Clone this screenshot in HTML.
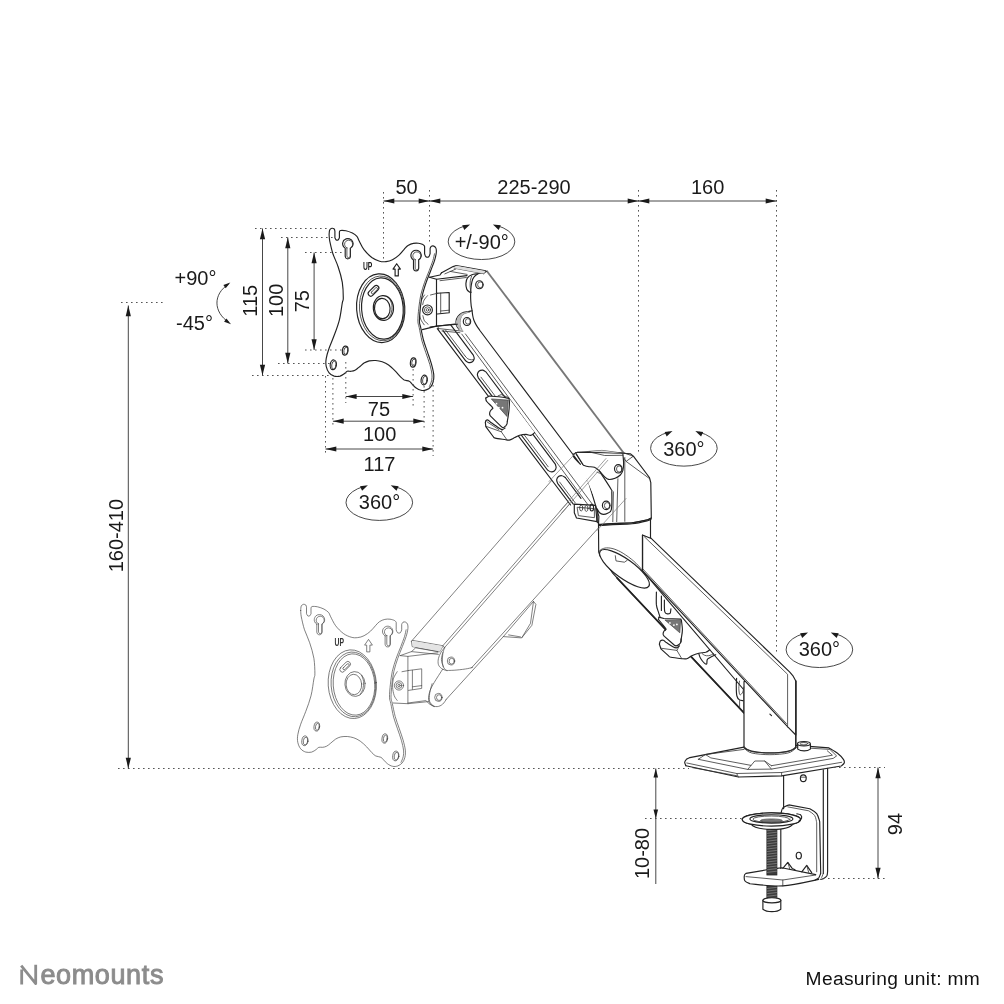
<!DOCTYPE html>
<html><head><meta charset="utf-8"><title>Neomounts dimensions</title>
<style>
html,body{margin:0;padding:0;background:#fff;}
body{width:1004px;height:1004px;overflow:hidden;font-family:"Liberation Sans",sans-serif;}
svg{display:block;position:absolute;left:0;top:0;}
svg text{font-family:"Liberation Sans",sans-serif;fill:#1a1a1a;}
svg{filter:grayscale(1);}
.m{fill:none;stroke:#222;stroke-width:1.15;stroke-linecap:round;stroke-linejoin:round;}
.t{fill:none;stroke:#333;stroke-width:0.8;stroke-linecap:round;stroke-linejoin:round;}
.g{fill:none;stroke:#4a4a4a;stroke-width:0.7;stroke-linecap:round;stroke-linejoin:round;}
.w{fill:#fff;stroke:#222;stroke-width:1.15;stroke-linecap:round;stroke-linejoin:round;}
.gw{fill:#fff;stroke:#4a4a4a;stroke-width:0.7;stroke-linecap:round;stroke-linejoin:round;}
.d{fill:none;stroke:#555;stroke-width:1;stroke-dasharray:1.6 3.4;}
.a{fill:none;stroke:#333;stroke-width:0.9;}
.ah{fill:#1a1a1a;stroke:none;}
</style></head><body>
<svg width="1004" height="1004" viewBox="0 0 1004 1004">
<rect width="1004" height="1004" fill="#fff"/>
<!-- ghostarm -->
<path class="g" d="M411.5 641.2L575.5 453.2"/>
<path class="g" d="M442.6 646.0L606.0 458.5"/>
<path class="g" d="M444.4 647.8L607.8 460.3"/>
<path class="g" d="M471.3 668.1L618.0 506.3"/>
<path class="g" d="M446.4 699.2L503.6 636.3"/>
<path class="g" d="M503.6 636.3L533.5 601.4L535.9 604.4L531.9 625.3L521.9 637.6Z"/>
<path class="g" d="M508.6 634.9L520.5 636.9"/>
<path class="g" d="M533.5 601.4L530.5 623.3L521.9 637.6"/>
<path class="g" d="M411.5 641.2L412.7 640.4L443.2 645.8L444.5 647.8"/>
<path class="g" d="M411.5 641.6L412.2 646.6L439.7 651.9L442.8 646.4"/>
<path d="M412.7 640.9 L442.6 646.1 L440.0 651.4 L412.7 646.4Z" fill="#e4e4e4" stroke="none"/>
<path class="g" d="M444.5 647.8C443.9 648.6 441.8 650.8 440.8 652.6C439.8 654.4 438.8 656.6 438.4 658.6C438.0 660.6 437.9 662.9 438.4 664.5C438.9 666.2 440.1 667.4 441.4 668.4C442.7 669.4 445.4 670.2 446.2 670.5"/>
<path class="g" d="M442.8 652.6C442.6 653.8 441.3 657.4 441.4 659.8C441.5 662.2 443.0 665.7 443.3 666.9"/>
<path class="g" d="M444.5 647.8C444.2 648.8 443.2 651.4 442.8 653.8C442.5 656.2 442.2 659.8 442.4 662.2C442.5 664.5 443.3 666.7 444.0 668.1C444.8 669.5 446.4 670.1 446.9 670.5"/>
<path class="g" d="M446.9 670.5C448.6 670.4 453.5 670.4 456.9 670.0C460.4 669.7 465.1 669.1 467.7 668.6C470.3 668.1 471.7 667.5 472.5 667.3"/>
<ellipse class="g" cx="451.0" cy="661.0" rx="3.7" ry="4.0"/>
<ellipse class="g" cx="451.7" cy="661.2" rx="2.6" ry="2.9"/>
<path class="g" d="M442.6 669.3C441.2 671.5 436.3 678.9 434.2 682.5C432.1 686.1 431.0 688.0 430.0 690.8C429.1 693.6 428.3 696.9 428.5 699.2C428.7 701.6 429.8 703.7 431.2 704.9C432.7 706.2 435.3 706.7 437.2 706.6C439.1 706.5 441.1 705.5 442.6 704.2C444.1 703.0 445.8 700.0 446.4 699.2"/>
<path class="g" d="M432.1 683.7C431.7 685.3 430.1 690.2 429.7 693.2C429.3 696.2 429.1 699.5 429.7 701.6C430.3 703.7 432.7 705.2 433.3 705.9"/>
<ellipse class="g" cx="438.4" cy="697.4" rx="3.7" ry="4.0"/>
<ellipse class="g" cx="439.1" cy="697.6" rx="2.6" ry="2.9"/>
<path class="g" d="M400.2 655.6L407.9 656.4L437.8 652.8"/>
<path class="g" d="M400.2 655.6L411.5 651.6L438.4 654.4"/>
<path class="g" d="M407.9 656.4L407.9 703.7L428.5 701.6"/>
<path class="g" d="M393.0 703.0L407.9 703.7"/>
<path class="g" d="M411.5 651.6L415.7 647.8L437.8 651.6"/>
<path class="g" d="M408.5 670.5L421.7 668.8L421.7 688.4L408.5 690.4"/>
<path class="g" d="M412.4 670.3L412.4 689.4"/>
<path class="g" d="M412.4 686.8L421.7 685.6"/>
<path class="g" d="M402.0 671.7L408.5 670.5"/>
<ellipse class="gw" cx="399.0" cy="685.5" rx="4.6" ry="4.6"/>
<ellipse class="g" cx="399.0" cy="685.5" rx="2.9" ry="2.9"/>
<ellipse class="g" cx="399.0" cy="685.5" rx="1.2" ry="1.2"/>
<path class="g" d="M397.2 671.7C396.5 672.9 394.1 676.3 393.3 678.9C392.6 681.5 392.5 684.5 392.6 687.3C392.8 690.0 393.4 693.4 394.2 695.6C394.9 697.8 396.7 699.6 397.2 700.4"/>
<path class="g" d="M407.9 703.0L425.9 700.6L429.7 704.2L434.5 706.6"/>

<!-- ghostvesa -->
<path class="gw" d="M300.7 610.4C300.8 609.7 300.8 606.9 301.3 605.9C301.8 604.9 302.8 604.5 303.5 604.3C304.3 604.2 305.3 604.5 305.8 605.0C306.3 605.5 306.4 606.8 306.5 607.2L306.5 613.7C306.7 614.0 307.2 615.5 307.8 615.9C308.3 616.2 309.2 616.2 309.7 615.9C310.3 615.5 310.8 614.0 311.0 613.7L311.0 608.1C311.2 607.8 311.0 606.8 312.1 606.5C313.1 606.3 315.5 606.4 317.5 606.8C319.5 607.2 322.1 608.2 324.0 609.1C325.8 610.1 327.4 611.2 328.5 612.4C329.6 613.6 329.3 614.0 330.4 616.2C331.6 618.5 333.5 622.8 335.6 625.7C337.8 628.6 340.8 631.5 343.4 633.5C346.0 635.4 348.8 636.5 351.2 637.2C353.5 637.9 355.5 637.9 357.6 637.6C359.8 637.4 362.0 636.8 364.1 635.7C366.3 634.6 368.6 632.9 370.6 631.1C372.5 629.4 374.3 626.9 375.8 625.3C377.3 623.7 378.1 622.6 379.6 621.6C381.2 620.6 383.1 619.7 384.8 619.4C386.6 619.0 388.4 619.0 390.0 619.2C391.6 619.4 393.5 620.0 394.5 620.5C395.6 621.0 395.9 622.0 396.2 622.3L396.2 629.8C396.4 630.3 396.8 632.2 397.5 632.7C398.2 633.2 399.7 633.2 400.4 632.7C401.1 632.2 401.4 630.3 401.7 629.8L401.7 624.4C401.9 624.0 402.3 622.6 403.0 622.2C403.6 621.8 404.8 621.8 405.5 622.1C406.3 622.4 407.1 623.1 407.5 624.1C407.9 625.2 408.1 626.5 407.9 628.5C407.7 630.6 407.1 633.3 406.2 636.3C405.3 639.3 403.7 643.0 402.3 646.7C400.9 650.3 399.2 654.2 397.8 658.3C396.4 662.4 394.9 667.0 393.9 671.3C392.9 675.6 392.4 679.9 391.9 684.2C391.5 688.5 391.0 694.0 391.0 697.2C391.1 700.4 391.6 700.3 392.3 703.5C393.0 706.7 394.1 712.4 395.2 716.5C396.3 720.6 397.8 724.2 399.1 728.1C400.4 732.0 401.9 736.1 403.0 739.8C404.0 743.4 405.0 747.2 405.3 750.1C405.6 753.0 405.4 755.1 404.9 757.3C404.4 759.4 403.5 761.4 402.3 762.8C401.1 764.3 399.4 765.3 397.8 765.9C396.2 766.5 394.3 766.7 392.6 766.3C390.9 766.0 388.9 764.8 387.4 763.7C385.9 762.7 384.6 760.9 383.5 759.8C382.5 758.8 382.2 757.9 380.9 757.3C379.6 756.6 377.3 756.7 375.8 756.0C374.3 755.2 373.4 754.2 371.9 752.7C370.4 751.2 368.6 748.8 366.7 746.9C364.8 745.0 362.4 742.6 360.2 741.1C358.1 739.6 355.9 738.6 353.8 737.8C351.6 737.1 349.4 736.7 347.3 736.5C345.1 736.4 342.7 736.5 340.8 736.9C338.9 737.4 337.4 738.0 335.6 739.1C333.9 740.2 332.0 742.2 330.4 743.4C328.9 744.6 327.9 745.6 326.6 746.2C325.3 746.9 324.0 747.1 322.7 747.3C321.4 747.5 319.9 746.9 318.8 747.3C317.7 747.7 317.4 748.7 316.2 749.5C315.0 750.3 313.4 751.6 311.7 752.1C309.9 752.5 307.7 752.6 305.8 752.1C304.0 751.5 302.0 750.5 300.7 748.8C299.3 747.2 298.3 744.7 297.8 742.4C297.3 740.0 297.3 737.6 297.8 734.6C298.3 731.6 299.3 728.1 300.7 724.2C302.0 720.4 304.1 716.0 305.8 711.3C307.6 706.5 309.7 701.1 311.0 695.8C312.4 690.4 313.2 682.6 313.9 678.9C314.5 675.3 314.9 677.3 314.9 673.9C314.9 670.4 314.7 663.5 313.9 658.3C313.0 653.2 311.3 647.5 309.7 642.8C308.2 638.0 306.0 634.2 304.5 629.8C303.1 625.5 302.0 620.1 301.3 616.9C300.7 613.7 300.8 611.5 300.7 610.4Z"/>
<path class="g" d="M406.1 629.8C405.8 631.0 405.4 633.8 404.5 636.6C403.6 639.4 402.1 643.1 400.8 646.7C399.4 650.3 397.6 654.2 396.2 658.3C394.8 662.4 393.3 667.0 392.3 671.3C391.4 675.6 390.9 679.9 390.4 684.2C389.9 688.5 389.4 694.0 389.5 697.2C389.6 700.4 390.1 700.2 390.8 703.5C391.5 706.8 392.5 712.9 393.6 717.1C394.8 721.3 396.2 724.9 397.5 728.8C398.8 732.7 400.4 736.9 401.4 740.4C402.4 744.0 403.2 747.4 403.5 750.1C403.8 752.8 403.6 754.6 403.2 756.6C402.8 758.7 401.4 761.5 401.0 762.4"/>
<path class="g" d="M316.8 624.2C316.6 624.0 315.8 623.5 315.4 623.0C315.0 622.5 314.7 621.9 314.5 621.3C314.3 620.7 314.2 620.0 314.3 619.4C314.3 618.7 314.5 618.1 314.8 617.5C315.0 616.9 315.5 616.4 315.9 615.9C316.4 615.5 317.0 615.2 317.5 614.9C318.1 614.7 318.8 614.6 319.4 614.6C320.1 614.6 320.7 614.7 321.3 614.9C321.9 615.2 322.5 615.5 323.0 615.9C323.4 616.4 323.8 616.9 324.1 617.5C324.4 618.1 324.6 618.7 324.6 619.4C324.7 620.0 324.6 620.7 324.4 621.3C324.2 621.9 323.9 622.5 323.5 623.0C323.1 623.5 322.3 624.0 322.0 624.2L322.0 632.2C321.9 632.5 321.7 633.7 321.3 634.1C320.8 634.5 320.0 634.8 319.4 634.8C318.8 634.8 318.1 634.5 317.6 634.1C317.2 633.7 317.0 632.5 316.8 632.2L316.8 624.2Z"/>
<path class="g" d="M385.1 635.9C384.8 635.7 384.0 635.1 383.6 634.6C383.2 634.1 382.9 633.5 382.7 632.9C382.5 632.3 382.5 631.6 382.5 631.0C382.6 630.4 382.7 629.7 383.0 629.2C383.3 628.6 383.7 628.0 384.2 627.6C384.6 627.2 385.2 626.8 385.8 626.6C386.4 626.3 387.0 626.2 387.7 626.2C388.3 626.2 389.0 626.3 389.6 626.6C390.2 626.8 390.7 627.2 391.2 627.6C391.7 628.0 392.1 628.6 392.3 629.2C392.6 629.7 392.8 630.4 392.8 631.0C392.9 631.6 392.8 632.3 392.6 632.9C392.4 633.5 392.1 634.1 391.7 634.6C391.3 635.1 390.5 635.7 390.3 635.9L390.3 644.3C390.1 644.7 389.9 645.9 389.5 646.3C389.1 646.7 388.3 646.9 387.7 646.9C387.1 646.9 386.3 646.7 385.9 646.3C385.4 645.9 385.2 644.7 385.1 644.3L385.1 635.9Z"/>
<path class="g" d="M318.5 623.9C318.3 623.8 317.6 623.4 317.3 623.0C316.9 622.6 316.6 622.2 316.5 621.7C316.3 621.2 316.2 620.7 316.2 620.2C316.2 619.7 316.3 619.1 316.5 618.7C316.7 618.2 317.0 617.7 317.4 617.4C317.8 617.0 318.2 616.7 318.7 616.5C319.2 616.4 319.7 616.2 320.2 616.2C320.7 616.2 321.3 616.4 321.7 616.5C322.2 616.7 322.7 617.0 323.0 617.4C323.4 617.7 323.7 618.2 323.9 618.7C324.1 619.1 324.2 619.7 324.2 620.2C324.2 620.7 324.1 621.2 324.0 621.7C323.8 622.2 323.5 622.6 323.1 623.0C322.8 623.4 322.1 623.8 321.9 623.9L321.9 631.9C321.8 632.1 321.7 632.9 321.4 633.2C321.1 633.5 320.6 633.6 320.2 633.6C319.8 633.6 319.3 633.5 319.0 633.2C318.8 632.9 318.6 632.1 318.5 631.9L318.5 623.9Z"/>
<path class="g" d="M386.8 635.6C386.6 635.4 385.9 635.0 385.5 634.7C385.2 634.3 384.9 633.8 384.7 633.3C384.5 632.9 384.4 632.3 384.4 631.8C384.5 631.3 384.6 630.8 384.8 630.3C385.0 629.9 385.3 629.4 385.6 629.0C386.0 628.7 386.5 628.4 386.9 628.2C387.4 628.0 387.9 627.9 388.5 627.9C389.0 627.9 389.5 628.0 390.0 628.2C390.4 628.4 390.9 628.7 391.3 629.0C391.6 629.4 391.9 629.9 392.1 630.3C392.3 630.8 392.5 631.3 392.5 631.8C392.5 632.3 392.4 632.9 392.2 633.3C392.0 633.8 391.7 634.3 391.4 634.7C391.0 635.0 390.3 635.4 390.1 635.6L390.1 644.1C390.1 644.3 389.9 645.1 389.6 645.4C389.4 645.6 388.8 645.8 388.5 645.8C388.1 645.8 387.6 645.6 387.3 645.4C387.0 645.1 386.9 644.3 386.8 644.1L386.8 635.6Z"/>
<ellipse class="g" cx="316.8" cy="726.6" rx="2.8" ry="4.5" transform="rotate(8 316.8 726.6)"/>
<ellipse class="g" cx="317.4" cy="726.8" rx="1.9" ry="3.5" transform="rotate(8 317.4 726.8)"/>
<ellipse class="g" cx="304.9" cy="740.8" rx="3.1" ry="4.9" transform="rotate(8 304.9 740.8)"/>
<ellipse class="g" cx="305.5" cy="741.1" rx="2.2" ry="3.9" transform="rotate(8 305.5 741.1)"/>
<ellipse class="g" cx="384.8" cy="738.5" rx="2.8" ry="4.7" transform="rotate(8 384.8 738.5)"/>
<ellipse class="g" cx="385.3" cy="738.7" rx="1.9" ry="3.6" transform="rotate(8 385.3 738.7)"/>
<ellipse class="g" cx="395.8" cy="756.0" rx="3.1" ry="4.9" transform="rotate(8 395.8 756.0)"/>
<ellipse class="g" cx="396.4" cy="756.2" rx="2.2" ry="3.9" transform="rotate(8 396.4 756.2)"/>
<ellipse class="g" cx="352.3" cy="684.2" rx="24.1" ry="34.4" transform="rotate(-4 352.3 684.2)"/>
<ellipse class="g" cx="353.4" cy="684.4" rx="22.3" ry="32.4" transform="rotate(-4 353.4 684.4)"/>
<ellipse class="g" cx="354.0" cy="684.5" rx="20.8" ry="30.7" transform="rotate(-4 354.0 684.5)"/>
<ellipse class="g" cx="355.0" cy="684.0" rx="10.1" ry="12.4" transform="rotate(-4 355.0 684.0)"/>
<ellipse class="g" cx="353.9" cy="684.5" rx="7.8" ry="10.2" transform="rotate(-4 353.9 684.5)"/>
<path class="g" d="M361.5 675.2C361.9 676.2 363.4 679.3 363.6 681.6C363.8 684.0 363.4 687.2 362.8 689.4C362.2 691.6 360.4 693.7 360.0 694.6"/>
<rect class="g" x="338.6" y="664.2" width="12.9" height="5.2" rx="2.6" transform="rotate(-45 345.1 666.7)"/>
<rect class="g" x="342.1" y="665.6" width="7.8" height="2.3" rx="1.2" transform="rotate(-45 346.0 666.7)"/>
<path class="g" d="M368.3 639.7L364.6 645.1L366.7 645.1L366.7 651.9L369.9 651.9L369.9 645.1L372.0 645.1Z"/>
<text x="334.5" y="645.5" font-size="10.4" font-weight="bold" textLength="9.4" lengthAdjust="spacingAndGlyphs" style="fill:#333">UP</text>

<!-- upperarm -->
<path d="M437.3 328.7L570.6 505.0L594.4 504.7L597.5 508.5L579.6 463.3L479.9 330.5L465.1 324.1Z" fill="#fff" stroke="none" stroke-width="0.6"/>
<path class="m" d="M437.3 328.7L570.6 505.0"/>
<path class="t" d="M461.8 334.1L590.2 507.8"/>
<path class="t" d="M465.4 333.9L594.5 507.1"/>
<path class="m" d="M443.0 330.7L465.7 360.8C466.2 361.1 467.7 362.5 468.8 362.6C469.9 362.8 471.5 362.5 472.4 361.8C473.3 361.1 474.0 359.7 474.2 358.6C474.4 357.5 473.5 355.7 473.3 355.1L450.7 324.9"/>
<path class="t" d="M445.5 330.0L465.1 356.0"/>
<path class="t" d="M465.1 356.0C465.5 356.5 466.8 358.2 467.9 358.9C469.0 359.5 470.7 359.7 471.7 359.8C472.6 359.9 473.5 359.5 473.9 359.4"/>
<path class="m" d="M486.0 372.0C485.5 371.7 484.0 370.3 482.8 370.1C481.7 370.0 480.1 370.3 479.2 371.0C478.3 371.7 477.6 373.1 477.4 374.2C477.2 375.3 478.1 377.2 478.3 377.8L547.5 470.0C548.0 470.3 549.6 471.7 550.7 471.8C551.8 472.0 553.4 471.7 554.3 471.0C555.2 470.3 556.0 468.9 556.1 467.8C556.3 466.6 555.4 464.8 555.3 464.2L486.0 372.0Z"/>
<path class="t" d="M481.0 377.2L548.2 466.8"/>
<path class="m" d="M565.3 477.5C564.7 477.2 563.2 475.8 562.1 475.7C561.0 475.5 559.4 475.9 558.5 476.5C557.6 477.2 556.9 478.6 556.7 479.7C556.6 480.8 557.4 482.7 557.6 483.3L573.3 504.2"/>
<path class="m" d="M565.3 477.5L581.0 498.4"/>
<path class="t" d="M559.6 482.0L575.2 502.8"/>
<path class="w" d="M487.0 271.2C485.5 271.6 480.4 272.8 478.2 273.7C476.1 274.7 474.9 275.7 473.9 277.1C472.8 278.4 472.4 279.7 471.9 281.9C471.4 284.0 471.0 286.9 470.8 289.8C470.6 292.8 470.6 296.7 470.7 299.4C470.8 302.1 471.0 303.9 471.2 305.8C471.5 307.7 471.9 309.2 472.1 310.8C472.3 312.4 472.4 313.9 472.7 315.5C473.0 317.1 473.3 318.7 473.9 320.3C474.5 321.9 475.3 323.4 476.3 325.1C477.3 326.8 479.3 329.6 479.9 330.5L580.5 464.5C579.7 462.6 568.4 454.9 575.6 453.0C582.8 451.1 615.7 453.0 623.7 453.0"/>
<path d="M487.0 271.2L623.7 453.0" fill="none" stroke="#777" stroke-width="1.9"/>
<ellipse class="m" cx="479.4" cy="284.7" rx="3.7" ry="4.0"/>
<ellipse class="t" cx="480.3" cy="284.8" rx="2.7" ry="2.9"/>
<path class="m" d="M472.1 310.8C471.4 310.9 469.6 311.4 467.9 311.7C466.2 312.0 463.7 312.1 462.0 312.9C460.3 313.7 458.8 315.3 457.8 316.7C456.8 318.1 456.2 320.0 456.0 321.5C455.8 323.0 456.1 324.4 456.6 325.7C457.1 327.0 458.6 328.7 459.0 329.3"/>
<path class="t" d="M469.7 312.0C468.7 312.3 465.2 313.0 463.7 314.0C462.2 315.0 461.4 316.4 460.8 317.9C460.2 319.3 459.9 321.2 459.9 322.7C459.8 324.2 460.1 325.7 460.5 326.9C460.9 328.1 461.8 329.4 462.0 329.9"/>
<path d="M467.9 311.7L462 312.9L457.8 316.7L456 321.5L456.6 325.7L459 329.3L462 329.9L460.5 326.9L459.9 322.7L460.8 317.9L463.7 314L469.7 312Z" fill="#bbb" stroke="none"/>
<ellipse class="m" cx="467.0" cy="321.5" rx="3.7" ry="4.0"/>
<ellipse class="t" cx="467.9" cy="321.4" rx="2.5" ry="2.8"/>
<path class="m" d="M477.5 273.7C476.5 273.9 473.5 274.0 471.9 274.7C470.2 275.4 468.5 276.4 467.5 277.9C466.5 279.3 466.0 281.6 465.9 283.5C465.8 285.3 466.2 287.6 466.7 289.0C467.2 290.4 468.3 291.3 469.1 291.8C469.8 292.4 470.9 292.2 471.2 292.2"/>
<path class="t" d="M471.7 276.1C471.5 276.8 470.6 278.7 470.4 280.3C470.1 281.9 470.1 284.0 470.1 285.9C470.2 287.7 470.7 290.6 470.8 291.6"/>
<path class="m" d="M441.6 272.7L453.1 266.6L456.3 265.5L485.8 270.9"/>
<path class="t" d="M454.2 268.2L483.7 273.7"/>
<path class="t" d="M444.8 273.9L455.9 269.0"/>
<path class="t" d="M450.2 271.4L467.1 274.4"/>
<path class="t" d="M483.7 273.7L487.0 271.2"/>
<path d="M456.3 265.7 L485.6 271.0 L483.5 273.6 L454.3 268.2Z" fill="#ddd" stroke="none"/>
<path class="m" d="M429.4 277.3L436.5 279.2L467.0 275.6"/>
<path class="m" d="M429.4 277.3L440.0 275.0L441.6 272.7"/>
<path class="m" d="M436.5 279.2L436.5 326.1L457.3 324.2"/>
<path class="m" d="M436.5 326.1L422.3 329.6"/>
<path class="t" d="M440.0 280.7L466.3 277.5"/>
<path class="m" d="M437.2 293.3L449.2 292.5L449.2 312.7L437.2 314.0"/>
<path class="t" d="M440.7 293.2L440.7 313.6"/>
<path class="t" d="M440.7 311.0L449.2 310.2"/>
<path class="t" d="M430.5 295.0L437.2 293.3"/>
<ellipse class="w" cx="427.5" cy="309.9" rx="4.9" ry="4.9"/>
<ellipse class="t" cx="427.5" cy="309.9" rx="3.1" ry="3.1"/>
<ellipse class="t" cx="427.5" cy="309.9" rx="1.3" ry="1.3"/>
<path class="t" d="M424.5 295.0C423.8 296.2 421.3 299.6 420.4 302.2C419.5 304.7 419.0 307.8 419.1 310.6C419.1 313.4 419.8 316.6 420.6 319.0C421.5 321.4 423.6 323.8 424.2 324.8"/>
<path class="t" d="M427.5 295.7C426.9 296.4 424.8 298.7 424.0 300.2C423.2 301.7 422.9 304.0 422.7 304.7"/>
<path class="t" d="M422.9 315.7C423.2 316.6 423.6 319.5 424.5 320.9C425.4 322.3 427.5 323.6 428.1 324.2"/>
<path class="m" d="M430.0 327.0L438.0 326.0L454.9 324.0"/>
<path class="t" d="M438.0 326.2L438.5 330.0"/>
<path class="t" d="M438.0 328.5L449.9 329.8L462.9 331.2"/>
<path class="t" d="M442.0 331.0L459.9 332.7"/>

<!-- hook1 -->
<path d="M485.8 398.1L489.3 396.0L508.9 398.4L534.6 432.6L530.8 435.4L526.0 434.4L519.6 435.2L514.8 437.6L509.3 440.1L495.3 438.1L493.5 437.0L485.8 426.6L485.4 422.6L488.1 420.1L501.3 426.6L490.3 415.9L492.9 408.3Z" fill="#fff" stroke="none" stroke-width="0.6"/>
<path class="m" d="M485.8 398.1C485.9 398.7 485.6 399.9 486.6 401.3C487.5 402.7 490.7 405.3 491.7 406.5C492.8 407.7 492.7 408.0 492.9 408.3C492.5 408.7 491.1 409.8 490.5 410.7C490.0 411.5 489.6 412.8 489.6 413.7C489.5 414.6 490.2 415.5 490.3 415.9L501.3 426.6C501.6 426.8 502.6 427.9 503.3 427.8C504.0 427.7 505.1 426.4 505.7 425.8C506.3 425.1 506.8 424.6 507.0 423.9C507.3 423.1 507.2 421.7 507.3 421.3"/>
<path class="m" d="M485.8 398.1L489.3 396.0C490.9 396.1 495.7 396.4 498.9 396.8C502.2 397.2 507.2 398.1 508.9 398.4C509.0 398.9 509.4 400.0 509.4 401.7C509.5 403.5 509.3 406.4 509.1 408.9C508.9 411.4 508.4 414.8 508.1 416.9C507.8 418.9 507.4 420.5 507.3 421.3"/>
<path class="m" d="M485.4 422.6C485.5 422.3 485.5 421.0 486.0 420.5C486.5 420.1 487.4 419.8 488.1 420.1C488.9 420.4 490.1 421.9 490.5 422.3C492.1 423.3 497.7 427.2 499.7 428.4C501.7 429.6 501.6 429.5 502.5 429.5C503.4 429.4 504.7 428.3 505.1 428.0"/>
<path class="m" d="M485.4 422.6L485.8 426.6L493.5 437.0C493.8 437.2 493.3 437.7 495.3 438.1C497.4 438.6 504.0 439.4 505.7 439.7C506.3 439.7 507.7 440.5 509.3 440.1C510.8 439.8 513.1 438.4 514.8 437.6C516.6 436.8 517.8 435.7 519.6 435.2C521.5 434.7 524.1 434.4 526.0 434.4C527.9 434.4 529.3 435.7 530.8 435.4C532.2 435.1 534.0 433.1 534.6 432.6"/>
<path class="t" d="M486.2 426.4L501.3 431.8L502.6 429.5"/>
<path class="t" d="M501.3 431.8L506.7 439.5"/>
<path class="t" d="M487.0 421.8L498.9 429.6"/>
<path d="M491.3 398.9 L508.3 400.1 L507.0 416.5 Z" fill="#777" stroke="#333" stroke-width="0.6"/>
<circle cx="496.5" cy="403.7" r="0.9" fill="#fff"/>
<circle cx="498.9" cy="407.7" r="0.9" fill="#fff"/>
<circle cx="502.5" cy="407.7" r="0.9" fill="#fff"/>
<path class="t" d="M498.1 395.8L501.3 394.6L508.5 397.7"/>

<!-- vesa -->
<path class="w" d="M329.1 234.4C329.2 233.7 329.2 230.9 329.7 229.9C330.2 228.9 331.2 228.5 331.9 228.3C332.7 228.2 333.7 228.5 334.2 229.0C334.7 229.5 334.8 230.8 334.9 231.2L334.9 237.7C335.1 238.0 335.6 239.5 336.2 239.9C336.7 240.2 337.6 240.2 338.1 239.9C338.7 239.5 339.2 238.0 339.4 237.7L339.4 232.1C339.6 231.8 339.4 230.8 340.5 230.5C341.5 230.3 343.9 230.4 345.9 230.8C347.9 231.2 350.5 232.2 352.4 233.1C354.2 234.1 355.8 235.2 356.9 236.4C358.0 237.6 357.7 238.0 358.8 240.2C360.0 242.5 361.9 246.8 364.0 249.7C366.2 252.6 369.2 255.5 371.8 257.5C374.4 259.4 377.2 260.5 379.6 261.2C381.9 261.9 383.9 261.9 386.0 261.6C388.2 261.4 390.4 260.8 392.5 259.7C394.7 258.6 397.0 256.9 399.0 255.1C400.9 253.4 402.7 250.9 404.2 249.3C405.7 247.7 406.5 246.6 408.0 245.6C409.6 244.6 411.5 243.7 413.2 243.4C415.0 243.0 416.8 243.0 418.4 243.2C420.0 243.4 421.9 244.0 422.9 244.5C424.0 245.0 424.3 246.0 424.6 246.3L424.6 253.8C424.8 254.3 425.2 256.2 425.9 256.7C426.6 257.2 428.1 257.2 428.8 256.7C429.5 256.2 429.8 254.3 430.1 253.8L430.1 248.4C430.3 248.0 430.7 246.6 431.4 246.2C432.0 245.8 433.2 245.8 433.9 246.1C434.7 246.4 435.5 247.1 435.9 248.1C436.3 249.2 436.5 250.5 436.3 252.5C436.1 254.6 435.5 257.3 434.6 260.3C433.7 263.3 432.1 267.0 430.7 270.7C429.3 274.3 427.6 278.2 426.2 282.3C424.8 286.4 423.3 291.0 422.3 295.3C421.3 299.6 420.8 303.9 420.3 308.2C419.9 312.5 419.4 318.0 419.4 321.2C419.5 324.4 420.0 324.3 420.7 327.5C421.4 330.7 422.5 336.4 423.6 340.5C424.7 344.6 426.2 348.2 427.5 352.1C428.8 356.0 430.3 360.1 431.4 363.8C432.4 367.4 433.4 371.2 433.7 374.1C434.0 377.0 433.8 379.1 433.3 381.3C432.8 383.4 431.9 385.4 430.7 386.8C429.5 388.3 427.8 389.3 426.2 389.9C424.6 390.5 422.7 390.7 421.0 390.3C419.3 390.0 417.3 388.8 415.8 387.7C414.3 386.7 413.0 384.9 411.9 383.8C410.9 382.8 410.6 381.9 409.3 381.3C408.0 380.6 405.7 380.7 404.2 380.0C402.7 379.2 401.8 378.2 400.3 376.7C398.8 375.2 397.0 372.8 395.1 370.9C393.2 369.0 390.8 366.6 388.6 365.1C386.5 363.6 384.3 362.6 382.2 361.8C380.0 361.1 377.8 360.7 375.7 360.5C373.5 360.4 371.1 360.5 369.2 360.9C367.3 361.4 365.8 362.0 364.0 363.1C362.3 364.2 360.4 366.2 358.8 367.4C357.3 368.6 356.3 369.6 355.0 370.2C353.7 370.9 352.4 371.1 351.1 371.3C349.8 371.5 348.3 370.9 347.2 371.3C346.1 371.7 345.8 372.7 344.6 373.5C343.4 374.3 341.8 375.6 340.1 376.1C338.3 376.5 336.1 376.6 334.2 376.1C332.4 375.5 330.4 374.5 329.1 372.8C327.7 371.2 326.7 368.7 326.2 366.4C325.7 364.0 325.7 361.6 326.2 358.6C326.7 355.6 327.7 352.1 329.1 348.2C330.4 344.4 332.5 340.0 334.2 335.3C336.0 330.5 338.1 325.1 339.4 319.8C340.8 314.4 341.6 306.6 342.3 302.9C342.9 299.3 343.3 301.3 343.3 297.9C343.3 294.4 343.1 287.5 342.3 282.3C341.4 277.2 339.7 271.5 338.1 266.8C336.6 262.0 334.4 258.2 332.9 253.8C331.5 249.5 330.4 244.1 329.7 240.9C329.1 237.7 329.2 235.5 329.1 234.4Z"/>
<path class="t" d="M434.5 253.8C434.2 255.0 433.8 257.8 432.9 260.6C432.0 263.4 430.5 267.1 429.2 270.7C427.8 274.3 426.0 278.2 424.6 282.3C423.2 286.4 421.7 291.0 420.7 295.3C419.8 299.6 419.3 303.9 418.8 308.2C418.3 312.5 417.8 318.0 417.9 321.2C418.0 324.4 418.5 324.2 419.2 327.5C419.9 330.8 420.9 336.9 422.0 341.1C423.2 345.3 424.6 348.9 425.9 352.8C427.2 356.7 428.8 360.9 429.8 364.4C430.8 368.0 431.6 371.4 431.9 374.1C432.2 376.8 432.0 378.6 431.6 380.6C431.2 382.7 429.8 385.5 429.4 386.4"/>
<path class="m" d="M345.2 248.2C345.0 248.0 344.2 247.5 343.8 247.0C343.4 246.5 343.1 245.9 342.9 245.3C342.7 244.7 342.6 244.0 342.7 243.4C342.7 242.7 342.9 242.1 343.2 241.5C343.4 240.9 343.9 240.4 344.3 239.9C344.8 239.5 345.4 239.2 345.9 238.9C346.5 238.7 347.2 238.6 347.8 238.6C348.5 238.6 349.1 238.7 349.7 238.9C350.3 239.2 350.9 239.5 351.4 239.9C351.8 240.4 352.2 240.9 352.5 241.5C352.8 242.1 353.0 242.7 353.0 243.4C353.1 244.0 353.0 244.7 352.8 245.3C352.6 245.9 352.3 246.5 351.9 247.0C351.5 247.5 350.7 248.0 350.4 248.2L350.4 256.2C350.3 256.5 350.1 257.7 349.7 258.1C349.2 258.5 348.4 258.8 347.8 258.8C347.2 258.8 346.5 258.5 346.0 258.1C345.6 257.7 345.4 256.5 345.2 256.2L345.2 248.2Z"/>
<path class="m" d="M413.5 259.9C413.2 259.7 412.4 259.1 412.0 258.6C411.6 258.1 411.3 257.5 411.1 256.9C410.9 256.3 410.9 255.6 410.9 255.0C411.0 254.4 411.1 253.7 411.4 253.2C411.7 252.6 412.1 252.0 412.6 251.6C413.0 251.2 413.6 250.8 414.2 250.6C414.8 250.3 415.4 250.2 416.1 250.2C416.7 250.2 417.4 250.3 418.0 250.6C418.6 250.8 419.1 251.2 419.6 251.6C420.1 252.0 420.5 252.6 420.7 253.2C421.0 253.7 421.2 254.4 421.2 255.0C421.3 255.6 421.2 256.3 421.0 256.9C420.8 257.5 420.5 258.1 420.1 258.6C419.7 259.1 418.9 259.7 418.7 259.9L418.7 268.3C418.5 268.7 418.3 269.9 417.9 270.3C417.5 270.7 416.7 270.9 416.1 270.9C415.5 270.9 414.7 270.7 414.3 270.3C413.8 269.9 413.6 268.7 413.5 268.3L413.5 259.9Z"/>
<path class="t" d="M346.9 247.9C346.7 247.8 346.0 247.4 345.7 247.0C345.3 246.6 345.0 246.2 344.9 245.7C344.7 245.2 344.6 244.7 344.6 244.2C344.6 243.7 344.7 243.1 344.9 242.7C345.1 242.2 345.4 241.7 345.8 241.4C346.2 241.0 346.6 240.7 347.1 240.5C347.6 240.4 348.1 240.2 348.6 240.2C349.1 240.2 349.7 240.4 350.1 240.5C350.6 240.7 351.1 241.0 351.4 241.4C351.8 241.7 352.1 242.2 352.3 242.7C352.5 243.1 352.6 243.7 352.6 244.2C352.6 244.7 352.5 245.2 352.4 245.7C352.2 246.2 351.9 246.6 351.5 247.0C351.2 247.4 350.5 247.8 350.3 247.9L350.3 255.9C350.2 256.1 350.1 256.9 349.8 257.2C349.5 257.5 349.0 257.6 348.6 257.6C348.2 257.6 347.7 257.5 347.4 257.2C347.2 256.9 347.0 256.1 346.9 255.9L346.9 247.9Z"/>
<path class="t" d="M415.2 259.6C415.0 259.4 414.3 259.0 413.9 258.7C413.6 258.3 413.3 257.8 413.1 257.3C412.9 256.9 412.8 256.3 412.8 255.8C412.9 255.3 413.0 254.8 413.2 254.3C413.4 253.9 413.7 253.4 414.0 253.0C414.4 252.7 414.9 252.4 415.3 252.2C415.8 252.0 416.3 251.9 416.9 251.9C417.4 251.9 417.9 252.0 418.4 252.2C418.8 252.4 419.3 252.7 419.7 253.0C420.0 253.4 420.3 253.9 420.5 254.3C420.7 254.8 420.9 255.3 420.9 255.8C420.9 256.3 420.8 256.9 420.6 257.3C420.4 257.8 420.1 258.3 419.8 258.7C419.4 259.0 418.7 259.4 418.5 259.6L418.5 268.1C418.5 268.3 418.3 269.1 418.0 269.4C417.8 269.6 417.2 269.8 416.9 269.8C416.5 269.8 416.0 269.6 415.7 269.4C415.4 269.1 415.3 268.3 415.2 268.1L415.2 259.6Z"/>
<ellipse class="m" cx="345.2" cy="350.6" rx="2.8" ry="4.5" transform="rotate(8 345.2 350.6)"/>
<ellipse class="t" cx="345.8" cy="350.8" rx="1.9" ry="3.5" transform="rotate(8 345.8 350.8)"/>
<ellipse class="m" cx="333.3" cy="364.8" rx="3.1" ry="4.9" transform="rotate(8 333.3 364.8)"/>
<ellipse class="t" cx="333.9" cy="365.1" rx="2.2" ry="3.9" transform="rotate(8 333.9 365.1)"/>
<ellipse class="m" cx="413.2" cy="362.5" rx="2.8" ry="4.7" transform="rotate(8 413.2 362.5)"/>
<ellipse class="t" cx="413.7" cy="362.7" rx="1.9" ry="3.6" transform="rotate(8 413.7 362.7)"/>
<ellipse class="m" cx="424.2" cy="380.0" rx="3.1" ry="4.9" transform="rotate(8 424.2 380.0)"/>
<ellipse class="t" cx="424.8" cy="380.2" rx="2.2" ry="3.9" transform="rotate(8 424.8 380.2)"/>
<ellipse class="m" cx="380.7" cy="308.2" rx="24.1" ry="34.4" transform="rotate(-4 380.7 308.2)"/>
<ellipse class="t" cx="381.8" cy="308.4" rx="22.3" ry="32.4" transform="rotate(-4 381.8 308.4)"/>
<ellipse class="m" cx="382.4" cy="308.5" rx="20.8" ry="30.7" transform="rotate(-4 382.4 308.5)"/>
<ellipse class="m" cx="383.4" cy="308.0" rx="10.1" ry="12.4" transform="rotate(-4 383.4 308.0)"/>
<ellipse class="m" cx="382.3" cy="308.5" rx="7.8" ry="10.2" transform="rotate(-4 382.3 308.5)"/>
<path class="t" d="M389.9 299.2C390.3 300.2 391.8 303.3 392.0 305.6C392.2 308.0 391.8 311.2 391.2 313.4C390.6 315.6 388.8 317.7 388.4 318.6"/>
<rect class="m" x="367.0" y="288.2" width="12.9" height="5.2" rx="2.6" transform="rotate(-45 373.5 290.7)"/>
<rect class="t" x="370.5" y="289.6" width="7.8" height="2.3" rx="1.2" transform="rotate(-45 374.4 290.7)"/>
<path class="m" d="M396.7 263.7L393.0 269.1L395.1 269.1L395.1 275.9L398.3 275.9L398.3 269.1L400.4 269.1Z"/>
<text x="362.9" y="269.5" font-size="10.4" font-weight="bold" textLength="9.4" lengthAdjust="spacingAndGlyphs" style="fill:#1a1a1a">UP</text>

<!-- lowerarm -->
<path class="w" d="M599.5 552.4L612.7 573.2L620.5 581.6L744.0 712.9L744.0 690.0L642.5 570.6Z"/>
<path class="m" style="stroke-width:1.7" d="M617 577.8L620.5 581.6L744 712.9"/>
<path class="w" d="M744.0 681.5 L744.0 747.8 C751.8 754.6 788.0 754.6 795.8 747.8 L795.8 680.8 Z"/>
<path class="t" d="M744.0 746.5C745.3 747.4 747.5 750.4 751.8 751.5C756.1 752.5 763.9 753.0 769.9 753.0C776.0 753.0 783.7 752.5 788.0 751.5C792.4 750.4 794.5 747.4 795.8 746.5"/>
<path class="t" d="M744.5 748.6C745.8 749.3 747.6 752.0 751.8 753.0C756.0 754.0 763.9 754.7 769.9 754.7C776.0 754.7 783.8 754.0 788.0 753.0C792.3 752.0 794.1 749.3 795.3 748.6"/>
<path class="m" d="M736.6 678.2C736.6 679.6 736.2 684.0 736.3 687.0C736.3 690.0 736.4 693.9 736.9 696.0C737.4 698.2 738.5 699.2 739.5 699.9C740.5 700.7 742.4 700.5 743.0 700.6"/>
<path class="t" d="M739.5 681.1C739.4 682.3 738.8 686.0 738.8 688.3C738.9 690.5 739.2 694.1 739.9 694.7C740.5 695.4 742.1 693.4 742.7 692.2C743.4 690.9 743.6 687.8 743.8 687.0"/>
<path class="t" d="M739.6 700.6L739.6 707.7L743.8 711.8"/>
<path class="w" d="M642.5 534.8L649.9 537.2L789.8 672.2L793.2 676.2L795.8 681.0L795.8 735.0L788.0 727.1L642.5 570.6Z"/>
<path class="m" d="M795.8 681.0L795.8 747.5"/>
<path class="t" d="M644.4 536.8L787.6 674.3L787.6 727.1"/>
<path class="t" d="M642.5 568.6L786.5 723.6"/>
<path class="m" d="M769.9 714.2L771.5 715.7"/>

<!-- hook2 -->
<path d="M658.9 617.1L681.3 619.9L682.3 629.8L691.8 655.7L686.8 658.7L670.9 657.2L668.9 656.2L660.9 648.8L659.4 644.3L660.4 640.8L663.4 640.3L673.9 644.8L664.4 636.3L666.1 629.3Z" fill="#fff" stroke="none" stroke-width="0.6"/>
<path class="m" d="M656.4 592.0C656.4 594.2 656.1 601.6 656.4 604.9C656.8 608.3 657.8 610.0 658.4 611.9C659.0 613.9 659.7 615.9 659.9 616.7"/>
<path class="m" d="M661.4 596.0L661.4 610.4"/>
<path class="m" d="M664.4 600.0C664.5 602.0 664.0 609.9 664.9 612.1C665.8 614.4 668.9 614.0 669.9 613.5C670.9 613.0 670.7 609.7 670.9 608.9"/>
<path class="m" d="M658.9 617.1L663.9 618.5L680.8 619.1L681.4 620.5"/>
<path class="m" d="M658.9 617.4L658.5 619.5C659.6 620.8 663.6 625.7 664.9 627.4C666.2 629.0 665.9 629.0 666.1 629.3C665.7 629.7 664.4 630.5 663.9 631.3C663.4 632.2 663.0 633.5 663.1 634.3C663.2 635.2 664.2 636.1 664.4 636.4L673.9 644.8C674.2 645.0 675.1 646.0 676.1 645.9C677.0 645.8 678.5 645.0 679.3 644.3C680.1 643.6 680.6 642.7 680.8 641.8C681.1 640.9 681.0 639.3 681.0 638.8"/>
<path class="m" d="M681.4 620.5C681.6 622.0 682.4 627.0 682.4 629.8C682.4 632.7 681.7 635.8 681.4 637.8C681.2 639.8 681.1 641.1 681.0 641.8"/>
<path class="m" d="M659.4 644.0C659.6 643.5 659.8 641.5 660.4 640.9C661.1 640.3 662.5 640.1 663.4 640.3C664.3 640.5 665.5 642.0 665.9 642.3C667.1 643.0 671.1 645.8 672.9 646.8C674.6 647.7 675.3 648.0 676.4 647.9C677.4 647.7 678.8 646.1 679.3 645.8"/>
<path class="m" d="M659.4 644.3L660.9 648.8L668.9 656.2C669.2 656.4 668.7 656.9 670.9 657.3C673.0 657.7 680.0 658.5 681.8 658.7C682.7 658.7 685.2 659.2 686.8 658.7C688.5 658.2 689.8 656.7 691.8 655.7C693.8 654.8 696.4 653.8 698.8 653.2C701.1 652.7 703.9 652.8 705.7 652.3C707.6 651.7 709.1 650.2 709.7 649.8"/>
<path class="t" d="M661.4 648.3L676.9 650.4L679.3 646.0"/>
<path class="t" d="M676.9 650.4L681.8 658.7"/>
<path d="M664.9 619.9 L680.6 620.4 L679.8 632.8 Z" fill="#777" stroke="#333" stroke-width="0.6"/>
<circle cx="669.9" cy="622.9" r="0.9" fill="#fff"/>
<circle cx="673.9" cy="625.1" r="0.9" fill="#fff"/>
<circle cx="676.9" cy="624.4" r="0.9" fill="#fff"/>
<path class="m" d="M698.8 653.7C699.1 654.6 699.5 657.0 700.8 658.7C702.0 660.5 705.2 664.0 706.2 664.2C707.3 664.4 706.7 660.8 707.2 659.7C707.8 658.6 708.3 658.6 709.7 657.7C711.1 656.9 714.7 655.2 715.7 654.7"/>
<path class="t" d="M702.3 653.7C702.7 654.0 703.7 655.0 704.7 655.3C705.8 655.7 707.2 656.0 708.7 655.7C710.2 655.5 712.9 654.1 713.7 653.7"/>

<!-- elbow -->
<path class="w" d="M598.5 524.6L598.7 551.8L600.0 556.0L642.5 571.0L642.5 535.0L650.5 538.2L650.5 517.9Z"/>
<ellipse class="w" cx="624.5" cy="568.8" rx="30" ry="9.6" transform="rotate(36 624.5 568.8)"/>
<path class="t" d="M598.7 551.8C602 546.5 612 545.5 625.7 555C634 560.5 639 566 642.5 570.6"/>
<path class="t" d="M615.3 555.7L616.0 560.9L624.4 562.2L627.2 560.3"/>
<path class="m" d="M642.5 535.0L642.5 570.6"/>
<path class="w" d="M598.9 516.4L598.5 524.6L612.7 523.6L632.2 522.8L647.7 519.7L651.3 517.9L650.8 482.7L649.4 477.5L633.9 456.8L630.6 453.9L623.0 453.3L577.5 452.3L575.6 453.0L583.4 465.2Z"/>
<path class="m" d="M598.5 524.6C600.9 524.4 607.1 523.9 612.7 523.6C618.3 523.3 626.3 523.4 632.2 522.8C638.0 522.1 644.5 520.5 647.7 519.7C650.9 518.9 650.7 518.2 651.3 517.9"/>
<path class="m" d="M598.6 525.6C601.0 525.4 607.1 524.9 612.7 524.6C618.3 524.3 626.3 524.5 632.2 523.8C638.0 523.2 644.5 521.5 647.7 520.7C650.9 519.9 650.7 519.2 651.3 518.9"/>
<path class="t" d="M624.8 457.5L624.8 521.3"/>
<path class="t" d="M617.9 478.8L616.7 521.6"/>
<path class="t" d="M613.4 491.8L612.8 521.8"/>
<path class="t" d="M624.2 452.9L633.2 456.3L626.1 461.4L623.9 458.1"/>
<path class="t" d="M626.1 461.4L649.8 478.8"/>
<path class="w" d="M574.3 504.1L595.5 505.4L597.0 521.6L576.5 518.0L574.3 512.8Z"/>
<path class="t" d="M577.5 507.3L594.4 508.6L594.4 517.7L578.8 515.7Z"/>
<ellipse class="t" cx="581.2" cy="508.0" rx="1.6" ry="3.0"/>
<ellipse class="t" cx="586.4" cy="508.4" rx="1.6" ry="3.0"/>
<ellipse class="m" cx="591.8" cy="507.6" rx="1.8" ry="3.4"/>
<path d="M599.3 470.8 L610.8 488.7 L611.8 492.7 L611.3 509.6 L607.6 513.2 L603.2 514.4 L599.6 512.8 L597.2 509.0 L597.5 505.0 L580.5 464.5 L583.4 465.2 L587.9 466.5 L594.4 467.3 L599.3 470.8 L604.7 476.9 L608.6 479.4 L615.1 478.3 L611.8 492.7 L610.8 488.7Z" fill="#fff" stroke="none"/>
<path d="M575.6 452.9 L583.4 465.2 L587.9 466.5 L594.4 467.3 L599.3 470.8 L604.7 476.9 L608.6 479.4 L615.1 478.3 L620.3 475.0 L622.9 470.4 L623.6 463.3 L622.9 454.2Z" fill="#fff" stroke="none"/>
<path class="m" d="M575.6 452.9L583.4 465.2C584.1 465.4 586.1 466.1 587.9 466.5C589.7 466.9 592.5 466.6 594.4 467.3C596.3 468.0 597.6 469.2 599.3 470.8C601.0 472.4 603.2 475.5 604.7 476.9C606.2 478.3 606.9 479.2 608.6 479.4C610.3 479.6 613.2 479.0 615.1 478.3C617.0 477.6 619.0 476.3 620.3 475.0C621.6 473.7 622.3 472.3 622.9 470.4C623.5 468.4 623.6 466.0 623.6 463.3C623.6 460.6 623.0 455.7 622.9 454.2"/>
<path class="m" d="M599.3 470.8C601.2 473.8 608.7 485.1 610.8 488.7C612.9 492.3 611.7 489.2 611.8 492.7C611.9 496.2 612.0 506.2 611.3 509.6C610.6 513.0 609.0 512.4 607.6 513.2C606.2 514.0 604.5 514.5 603.2 514.4C601.9 514.3 600.6 513.7 599.6 512.8C598.6 511.9 597.6 509.6 597.2 509.0"/>
<path class="m" d="M597.2 509.0L597.2 521.8L598.9 524.0"/>
<path class="t" d="M597.0 472.4C597.6 472.6 599.6 472.8 600.9 473.9C602.2 475.0 604.1 478.0 604.7 478.8"/>
<ellipse class="m" cx="618.3" cy="468.8" rx="3.8" ry="4.2"/>
<ellipse class="t" cx="619.2" cy="469.0" rx="2.7" ry="3.1"/>
<ellipse class="m" cx="606.2" cy="505.4" rx="3.8" ry="4.2"/>
<ellipse class="t" cx="607.1" cy="505.6" rx="2.7" ry="3.1"/>
<path class="t" d="M577.5 452.3L602.0 450.4L623.0 453.2"/>
<path class="t" d="M589.2 451.9L604.7 455.5L622.9 455.3"/>
<path d="M590.0 451.6 L602.0 450.6 L622.0 453.2 Z" fill="#ddd" stroke="none"/>
<path class="g" style="stroke:#777" d="M549 481.5L575.5 453.2M560 511L606 458.5M561.8 512.8L607.8 460.3M597 530.5L626 498.5"/>

<!-- clamp -->
<path class="m" d="M783.6 775.9L783.6 808.7"/>
<path class="m" d="M823.3 769.8L823.3 873.4"/>
<path class="m" d="M827.6 768.2L827.6 871.4C827.5 872.1 827.5 874.6 826.9 875.8C826.2 877.0 824.7 878.0 823.7 878.6C822.6 879.2 821.2 879.2 820.7 879.4"/>
<path class="t" d="M823.3 873.4L821.7 877.4"/>
<ellipse class="m" cx="803.3" cy="778.2" rx="2.9" ry="3.4"/>
<path class="t" d="M800.6 777.2L806.1 777.2"/>
<path class="m" d="M685.9 765.7C685.7 765.1 684.7 763.4 684.7 762.3C684.8 761.2 685.6 760.1 686.4 759.3C687.3 758.5 689.3 757.9 689.8 757.6L744.0 747.1"/>
<path class="m" d="M796.0 745.4L829.0 747.9C830.4 748.8 835.1 751.4 837.5 753.3C839.9 755.2 842.3 757.7 843.4 759.3C844.5 760.9 844.6 761.9 844.2 763.0C843.9 764.1 841.7 765.5 841.2 766.0L781.6 775.9L738.4 777.0L685.9 765.7"/>
<path class="t" d="M686.8 763.0L736.7 773.5L781.6 772.5L841.7 762.3"/>
<path class="t" d="M736.7 773.5L738.4 777.0"/>
<path class="t" d="M781.6 772.5L781.6 775.9"/>
<path class="t" d="M698.3 759.3L705.4 754.5L744.0 749.4"/>
<path class="t" d="M698.3 759.3L747.7 769.4L771.4 769.1L833.2 758.4L836.6 755.9L829.9 749.4L796.8 747.4"/>
<path class="t" d="M705.4 754.5L710.8 757.9L751.1 765.4L754.8 761.0L764.7 761.0L771.4 769.1"/>
<path class="t" d="M751.1 765.4L747.7 769.4"/>
<path class="t" d="M771.4 765.7L832.4 755.2L827.3 750.8"/>
<path class="t" d="M764.7 761.0L771.4 765.7"/>
<path class="t" d="M692.7 767.7L736.7 775.7"/>
<path class="w" d="M797.7 744.0 L797.7 749.1 C801.1 751.5 807.3 751.5 810.4 749.1 L810.4 744.0"/>
<ellipse class="w" cx="803.9" cy="743.7" rx="6.4" ry="2.2"/>
<ellipse class="t" cx="803.9" cy="743.7" rx="4.0" ry="1.2"/>
<path class="m" d="M780.8 814.0C781.2 813.0 781.5 809.6 782.8 808.0C784.2 806.5 787.8 805.4 788.8 804.9L809.7 808.8C810.9 809.6 815.0 811.5 816.7 813.6C818.4 815.8 819.2 820.3 819.7 821.6L820.7 873.4C820.3 874.1 819.7 876.6 818.7 877.8C817.7 878.9 815.4 879.9 814.7 880.4"/>
<path class="t" d="M787.8 806.9L808.7 810.8C809.7 811.6 813.4 813.6 814.7 815.6C816.0 817.6 816.4 821.6 816.7 822.8L816.7 871.8"/>
<path class="m" d="M780.8 814.0L780.8 868.4"/>
<ellipse class="m" cx="798.8" cy="855.5" rx="2.6" ry="3.3"/>
<path class="m" d="M782.8 868.4L787.8 862.4L792.2 868.4L795.0 869.8"/>
<path class="t" d="M787.8 862.4L789.8 869.0"/>
<path class="m" d="M801.8 871.8L806.7 865.4L811.7 872.6"/>
<path class="t" d="M806.7 865.4L808.7 872.4"/>
<path class="m" d="M766.9 869.8L746.0 873.4C745.7 873.7 744.5 874.1 744.4 875.4C744.2 876.6 744.1 879.6 745.0 881.0C745.9 882.4 749.1 883.3 750.0 883.7C755.4 884.1 771.4 886.7 782.8 885.9C794.3 885.2 812.7 880.5 818.7 879.4"/>
<path class="m" d="M776.9 868.4L781.8 867.8L815.7 874.6"/>
<path class="t" d="M746.0 876.6L782.8 880.0L815.7 875.0"/>
<path class="t" d="M782.8 880.0L782.8 885.9"/>
<rect x="766.9" y="828.6" width="10.0" height="46.4" fill="#3c3c3c" stroke="#222" stroke-width="0.8"/>
<path d="M766.9 830.8L776.9 829.6" stroke="#aaa" stroke-width="0.5" fill="none"/>
<path d="M766.9 833.4L776.9 832.2" stroke="#aaa" stroke-width="0.5" fill="none"/>
<path d="M766.9 836.0L776.9 834.8" stroke="#aaa" stroke-width="0.5" fill="none"/>
<path d="M766.9 838.6L776.9 837.4" stroke="#aaa" stroke-width="0.5" fill="none"/>
<path d="M766.9 841.2L776.9 840.0" stroke="#aaa" stroke-width="0.5" fill="none"/>
<path d="M766.9 843.8L776.9 842.6" stroke="#aaa" stroke-width="0.5" fill="none"/>
<path d="M766.9 846.4L776.9 845.2" stroke="#aaa" stroke-width="0.5" fill="none"/>
<path d="M766.9 849.0L776.9 847.8" stroke="#aaa" stroke-width="0.5" fill="none"/>
<path d="M766.9 851.6L776.9 850.4" stroke="#aaa" stroke-width="0.5" fill="none"/>
<path d="M766.9 854.2L776.9 853.0" stroke="#aaa" stroke-width="0.5" fill="none"/>
<path d="M766.9 856.8L776.9 855.6" stroke="#aaa" stroke-width="0.5" fill="none"/>
<path d="M766.9 859.4L776.9 858.2" stroke="#aaa" stroke-width="0.5" fill="none"/>
<path d="M766.9 862.0L776.9 860.8" stroke="#aaa" stroke-width="0.5" fill="none"/>
<path d="M766.9 864.6L776.9 863.4" stroke="#aaa" stroke-width="0.5" fill="none"/>
<path d="M766.9 867.2L776.9 866.0" stroke="#aaa" stroke-width="0.5" fill="none"/>
<path d="M766.9 869.8L776.9 868.6" stroke="#aaa" stroke-width="0.5" fill="none"/>
<path d="M766.9 872.4L776.9 871.2" stroke="#aaa" stroke-width="0.5" fill="none"/>
<rect x="766.9" y="886.3" width="10.0" height="13.9" fill="#3c3c3c" stroke="#222" stroke-width="0.8"/>
<path d="M766.9 888.5L776.9 887.3" stroke="#aaa" stroke-width="0.5" fill="none"/>
<path d="M766.9 891.1L776.9 889.9" stroke="#aaa" stroke-width="0.5" fill="none"/>
<path d="M766.9 893.7L776.9 892.5" stroke="#aaa" stroke-width="0.5" fill="none"/>
<path d="M766.9 896.3L776.9 895.1" stroke="#aaa" stroke-width="0.5" fill="none"/>
<path d="M766.9 898.9L776.9 897.7" stroke="#aaa" stroke-width="0.5" fill="none"/>
<path class="w" d="M762.9 900.3 L762.9 909.2 C766.9 912.4 776.9 912.4 780.8 909.2 L780.8 900.3 Z"/>
<ellipse class="w" cx="771.9" cy="900.3" rx="9.0" ry="2.6"/>
<ellipse class="w" cx="771.4" cy="819.5" rx="29.2" ry="6.6"/>
<path class="w" d="M750.8 823.9 C756.2 831.2 788.4 831.2 793.1 823.9"/>
<ellipse class="w" cx="771.4" cy="819.5" rx="29.2" ry="6.6"/>
<ellipse class="m" cx="771.4" cy="818.9" rx="21.5" ry="4.2"/>
<ellipse class="t" cx="771.4" cy="819.2" rx="18.5" ry="3.2"/>
<ellipse cx="771.4" cy="820.6" rx="11" ry="1.7" fill="#777" stroke="#333" stroke-width="0.6"/>
<path class="m" d="M796.8 813.8C797.5 814.0 799.8 814.1 800.6 814.8C801.3 815.5 801.9 817.1 801.6 818.2C801.3 819.3 799.3 820.7 798.9 821.2"/>

<!-- dims -->
<path class="d" d="M383.5 192L383.5 259"/>
<path class="d" d="M429.5 190L429.5 243"/>
<path class="d" d="M638.5 190L638.5 452"/>
<path class="d" d="M776.5 190L776.5 652"/>
<path class="a" d="M383.5 201L429.5 201"/>
<path class="ah" d="M429.5 201.0L418.7 203.6L418.7 198.4Z"/>
<path class="ah" d="M383.5 201.0L394.3 198.4L394.3 203.6Z"/>
<path class="a" d="M429.5 201L638.5 201"/>
<path class="ah" d="M638.5 201.0L627.7 203.6L627.7 198.4Z"/>
<path class="ah" d="M429.5 201.0L440.3 198.4L440.3 203.6Z"/>
<path class="a" d="M638.5 201L776.5 201"/>
<path class="ah" d="M776.5 201.0L765.7 203.6L765.7 198.4Z"/>
<path class="ah" d="M638.5 201.0L649.3 198.4L649.3 203.6Z"/>
<path class="d" d="M255 228.5L330 228.5"/>
<path class="d" d="M281 237.5L334 237.5"/>
<path class="d" d="M305 252.5L344 252.5"/>
<path class="d" d="M305 350L345 350"/>
<path class="d" d="M278 363.5L332 363.5"/>
<path class="d" d="M252 375.5L332 375.5"/>
<path class="a" d="M262.5 228.5L262.5 375.5"/>
<path class="ah" d="M262.5 375.5L259.9 364.7L265.1 364.7Z"/>
<path class="ah" d="M262.5 228.5L265.1 239.3L259.9 239.3Z"/>
<path class="a" d="M287.8 237.5L287.8 363.5"/>
<path class="ah" d="M287.8 363.5L285.2 352.7L290.4 352.7Z"/>
<path class="ah" d="M287.8 237.5L290.4 248.3L285.2 248.3Z"/>
<path class="a" d="M314.1 252.5L314.1 350"/>
<path class="ah" d="M314.1 350.0L311.5 339.2L316.7 339.2Z"/>
<path class="ah" d="M314.1 252.5L316.7 263.3L311.5 263.3Z"/>
<path class="d" d="M325.5 376L325.5 455"/>
<path class="d" d="M332.9 378L332.9 427"/>
<path class="d" d="M345.8 362L345.8 403"/>
<path class="d" d="M413.1 364L413.1 407"/>
<path class="d" d="M424.1 386L424.1 428"/>
<path class="d" d="M433.1 380L433.1 456"/>
<path class="a" d="M345.8 396.5L413.1 396.5"/>
<path class="ah" d="M413.1 396.5L402.3 399.1L402.3 393.9Z"/>
<path class="ah" d="M345.8 396.5L356.6 393.9L356.6 399.1Z"/>
<path class="a" d="M332.9 421.2L424.1 421.2"/>
<path class="ah" d="M424.1 421.2L413.3 423.8L413.3 418.6Z"/>
<path class="ah" d="M332.9 421.2L343.7 418.6L343.7 423.8Z"/>
<path class="a" d="M325.5 449L433.1 449"/>
<path class="ah" d="M433.1 449.0L422.3 451.6L422.3 446.4Z"/>
<path class="ah" d="M325.5 449.0L336.3 446.4L336.3 451.6Z"/>
<path class="d" d="M121 302.5L164 302.5"/>
<path class="d" d="M118 768.5L689 768.5"/>
<path class="a" d="M128.3 305.5L128.3 768.5"/>
<path class="ah" d="M128.3 768.5L125.7 757.7L130.9 757.7Z"/>
<path class="ah" d="M128.3 305.5L130.9 316.3L125.7 316.3Z"/>
<path class="d" d="M645 818.5L742 818.5"/>
<path class="a" d="M655.8 768.5L655.8 818.5"/>
<path class="ah" d="M655.8 818.5L653.5 809.5L658.1 809.5Z"/>
<path class="ah" d="M655.8 768.5L658.1 777.5L653.5 777.5Z"/>
<path class="a" d="M655.8 818.5L655.8 884"/>
<path class="d" d="M834 767.5L885 767.5"/>
<path class="d" d="M828 878.5L885 878.5"/>
<path class="a" d="M878 767.5L878 878.5"/>
<path class="ah" d="M878.0 878.5L875.4 867.7L880.6 867.7Z"/>
<path class="ah" d="M878.0 767.5L880.6 778.3L875.4 778.3Z"/>
<path class="a" d="M394.8 486.5A33.3 18.0 0 1 1 363.8 486.5"/>
<path class="ah" d="M390.7 485.3L398.6 486.2L396.5 490.8Z"/>
<path class="ah" d="M367.9 485.3L362.1 490.8L360.0 486.2Z"/>
<path class="a" d="M699.4 432.2A33.3 18.0 0 1 1 668.4 432.2"/>
<path class="ah" d="M695.3 431.0L703.2 431.9L701.1 436.5Z"/>
<path class="ah" d="M672.5 431.0L666.7 436.5L664.6 431.9Z"/>
<path class="a" d="M834.9 633.6A33.3 18.0 0 1 1 803.9 633.6"/>
<path class="ah" d="M830.8 632.4L838.7 633.3L836.6 637.9Z"/>
<path class="ah" d="M808.0 632.4L802.2 637.9L800.1 633.3Z"/>
<path class="a" d="M497.0 225.6A33.3 18.0 0 1 1 466.0 225.6"/>
<path class="ah" d="M492.9 224.4L500.8 225.3L498.7 229.9Z"/>
<path class="ah" d="M470.1 224.4L464.3 229.9L462.2 225.3Z"/>
<path class="a" d="M228.5 284.2C213 294 213 312 229 322.5"/>
<path class="ah" d="M230.3 282.6L225.7 288.3L223.4 285.0Z"/>
<path class="ah" d="M231.0 324.2L224.1 321.8L226.4 318.5Z"/>
<!-- text -->
<g font-size="20" text-anchor="middle">
<text x="406.5" y="193.5">50</text>
<text x="534" y="193.5">225-290</text>
<text x="707.6" y="193.5">160</text>
<text x="379.5" y="509">360°</text>
<text x="683.9" y="456">360°</text>
<text x="819.4" y="656.2">360°</text>
<text x="481.7" y="249">+/-90°</text>
<text x="195.5" y="284.7">+90°</text>
<text x="194.5" y="329.6">-45°</text>
<text transform="translate(123.3 535.6) rotate(-90)">160-410</text>
<text transform="translate(648.8 853.5) rotate(-90)">10-80</text>
<text transform="translate(902.3 824) rotate(-90)">94</text>
</g>
<g font-size="20" text-anchor="middle">
<text x="378.9" y="416">75</text>
<text x="379.7" y="440.7">100</text>
<text x="379.5" y="470.6">117</text>
<text transform="translate(257 300.8) rotate(-90)">115</text>
<text transform="translate(282.6 300.4) rotate(-90)">100</text>
<text transform="translate(308.9 301.2) rotate(-90)">75</text>
</g>
<text x="805.6" y="984.6" font-size="19.2" textLength="174.2" lengthAdjust="spacing" style="fill:#111">Measuring unit: mm</text>
<text x="40.4" y="984.4" font-size="27" textLength="123" lengthAdjust="spacing" style="fill:#8c8c8c;stroke:#8c8c8c;stroke-width:0.95">eomounts</text>
<path d="M21.7 984.6V969.5M21.2 965.6L35.7 983.6V964.8" fill="none" stroke="#8c8c8c" stroke-width="2.8" stroke-linejoin="round"/>

</svg>
</body></html>
